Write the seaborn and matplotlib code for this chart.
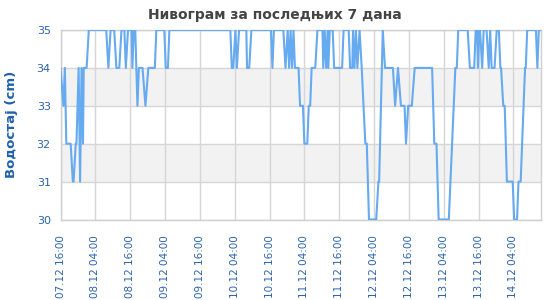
import matplotlib
matplotlib.use("Agg")
import matplotlib.pyplot as plt
import seaborn as sns
import pandas as pd

# ---- data ----
start = "2024-12-07 16:00"
hours = [0.0, 1.0, 1.5, 2.0, 3.5, 4.25, 4.5, 5.25, 5.5, 6.25, 6.75, 7.25, 7.75, 8.0, 9.0, 9.75,
         15.75, 16.5, 17.25, 18.5, 19.25, 20.25, 21.0, 22.0, 22.5, 23.25, 24.5, 24.75, 25.25, 25.75,
         26.5, 27.0, 28.25, 29.25, 30.25, 32.5, 33.0, 35.75, 36.25, 37.0, 37.5,
         58.5, 59.0, 59.5, 60.25, 60.75, 61.5, 64.0, 64.25, 65.0, 65.75,
         72.5, 73.0, 73.5, 76.75, 77.5, 78.25, 78.75, 79.25, 79.75, 80.25, 80.75, 82.0, 82.5, 83.5,
         84.0, 85.0, 85.5, 86.0, 86.5, 87.75, 88.5, 90.25, 90.5, 91.0, 91.5, 92.0, 92.25, 92.75,
         93.75, 94.25, 97.0, 97.5, 99.25, 99.75, 100.5, 100.75, 101.25, 101.75, 102.25, 103.0,
         103.75, 105.0, 105.5, 106.25, 108.75, 109.5, 109.75, 111.0, 111.75, 114.5, 115.25, 116.25,
         117.25, 118.5, 119.0, 119.75, 121.0, 122.0, 128.0, 128.75, 129.5, 130.25, 133.75, 136.0,
         136.5, 137.0, 140.25, 141.0, 142.5, 143.0, 143.5, 143.75, 144.25, 144.5, 145.25, 145.75,
         146.75, 147.5, 148.0, 148.5, 149.5, 150.25, 151.0, 151.5, 151.75, 152.5, 153.0, 153.75,
         155.75, 156.25, 157.25, 157.75, 158.5, 160.0, 160.25, 160.75, 163.75, 164.25, 164.75, 165.5]
level = [34, 33, 34, 32, 32, 31, 31, 32, 32, 34, 31, 34, 32, 34, 34, 35,
         35, 34, 35, 35, 34, 34, 35, 35, 34, 35, 35, 34, 35, 35,
         33, 34, 34, 33, 34, 34, 35, 35, 34, 34, 35,
         35, 34, 34, 35, 34, 35, 35, 34, 34, 35,
         35, 34, 35, 35, 34, 35, 34, 35, 34, 35, 34, 34, 33, 33,
         32, 32, 33, 33, 34, 34, 35, 35, 34, 35, 34, 35, 34, 35,
         35, 34, 34, 35, 35, 34, 34, 35, 34, 35, 34, 35,
         34, 32, 32, 30, 30, 31, 31, 35, 34, 34, 33, 34,
         33, 33, 32, 33, 33, 34, 34, 32, 32, 30, 30, 34,
         34, 35, 35, 34, 34, 35, 35, 34, 35, 35, 34, 35,
         35, 34, 35, 34, 34, 35, 35, 34, 34, 33, 33, 31,
         31, 30, 30, 31, 31, 34, 34, 35, 35, 34, 35, 35]
y_ticks = [30, 31, 32, 33, 34, 35]
title = "Нивограм за последњих 7 дана"
ylabel = "Водостај (cm)"

df = pd.DataFrame({
    "time": pd.Timestamp(start) + pd.to_timedelta(hours, unit="h"),
    "level": level,
})

sns.set_style("white")
plt.rcParams['font.family'] = ['DejaVu Sans']

W, H = 550, 300
fig = plt.figure(figsize=(5.5, 3), dpi=100)
left, right, top, bottom = 60.5, 541, 30, 219.5
ax = fig.add_axes([left / W, 1 - bottom / H, (right - left) / W, (bottom - top) / H])

for lo in (31, 33):
    ax.axhspan(lo, lo + 1, color="#f2f2f2", zorder=0, lw=0)

sns.lineplot(data=df, x="time", y="level", ax=ax, color="#66aaf0", lw=1.5, zorder=3)

ax.set_ylim(30, 35)
ax.set_xlim(df["time"].min(), df["time"].max())
ticks = pd.date_range(start, periods=14, freq="12h")
ax.set_xticks(ticks)
ax.set_xticklabels([t.strftime("%d.%m %H:%M") for t in ticks], rotation=90,
                   color="#2a62ac", fontsize=7.5, va="top", ha="center")
ax.set_yticks(y_ticks)
ax.set_yticklabels([str(v) for v in y_ticks], color="#2a62ac", fontsize=8)
ax.tick_params(axis="x", length=0, pad=11)
ax.tick_params(axis="y", length=0, pad=7)

ax.grid(True, color="#d6d6d6", lw=1, zorder=1)
ax.set_axisbelow(True)
for s in ax.spines.values():
    s.set_color("#cfcfcf")
    s.set_linewidth(1)

ax.set_xlabel("")
ax.set_ylabel(ylabel, color="#2060ac", fontsize=9.5, fontweight="bold")
ax.yaxis.set_label_coords(-0.088, 0.5)

fig.text(0.5, 1 - 15.5 / H, title, ha="center", va="center",
         fontsize=10, fontweight="bold", color="#444444")

fig.savefig("out.png", dpi=100)
